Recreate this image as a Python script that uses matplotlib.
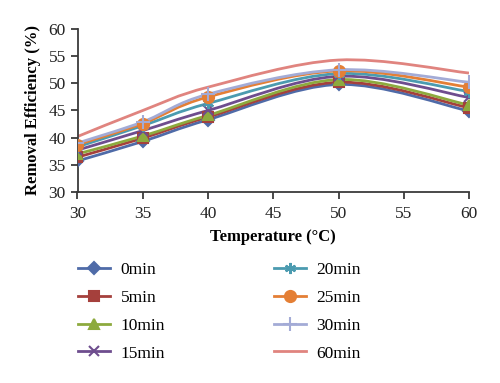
import numpy as np
import matplotlib
matplotlib.use("Agg")
import matplotlib.pyplot as plt
from matplotlib.path import Path
from matplotlib.patches import PathPatch
from matplotlib.lines import Line2D

plt.rcParams['font.family'] = ['Liberation Serif', 'DejaVu Serif']

temperature = [30, 35, 40, 50, 60]

labels = ["0min", "5min", "10min", "15min", "20min", "25min", "30min", "60min"]
eff_0 = [35.7, 39.3, 43.3, 49.8, 44.9]
eff_5 = [36.4, 39.9, 43.8, 50.2, 45.5]
eff_10 = [37.0, 40.3, 44.1, 50.7, 46.0]
eff_15 = [37.7, 41.3, 45.0, 51.3, 47.4]
eff_20 = [38.3, 42.2, 46.3, 51.8, 48.5]
eff_25 = [38.7, 42.6, 47.5, 52.3, 49.3]
eff_30 = [39.0, 42.9, 48.0, 52.5, 50.2]
eff_60 = [40.2, 45.0, 49.3, 54.3, 51.9]
series = [eff_0, eff_5, eff_10, eff_15, eff_20, eff_25, eff_30, eff_60]

colors = ["#4F6BA8", "#A5403C", "#8DAA3E", "#6E4D8E", "#4B9BB0",
          "#E47F35", "#A3ABD6", "#E0847F"]
markers = ["D", "s", "^", "x", (6, 2, 0), "o", "+", None]
msizes = [6, 7, 7, 7, 8, 8, 10, 0]


def smooth_path(xs, ys):
    # Excel-style smoothed line as cubic Bezier segments (Catmull-Rom)
    pts = np.column_stack([xs, ys]).astype(float)
    n = len(pts)
    verts = [pts[0]]
    codes = [Path.MOVETO]
    for i in range(n - 1):
        p0 = pts[i - 1] if i > 0 else pts[i]
        p1 = pts[i]
        p2 = pts[i + 1]
        p3 = pts[i + 2] if i + 2 < n else pts[i + 1]
        c1 = p1 + (p2 - p0) / 6.0
        c2 = p2 - (p3 - p1) / 6.0
        verts += [c1, c2, p2]
        codes += [Path.CURVE4] * 3
    return Path(verts, codes)


fig = plt.figure(figsize=(5.0, 3.83), dpi=100)
ax = fig.add_axes([0.155, 0.499, 0.783, 0.425])

handles = []
for vals, col, mk, ms, lab in zip(series, colors, markers, msizes, labels):
    ax.add_patch(PathPatch(smooth_path(temperature, vals), facecolor="none",
                           edgecolor=col, lw=2.0, zorder=2))
    if mk is not None:
        ax.plot(temperature, vals, linestyle="none", marker=mk, ms=ms,
                color=col, mec=col, mew=1.5, zorder=3)
    handles.append(Line2D([], [], color=col, lw=2.0, marker=mk, ms=ms,
                          mec=col, mew=1.5, label=lab))

ax.set_xlim(30, 60)
ax.set_ylim(30, 60)
ax.set_xticks(range(30, 61, 5))
ax.set_yticks(range(30, 61, 5))
ax.spines["top"].set_visible(False)
ax.spines["right"].set_visible(False)
for s in ["left", "bottom"]:
    ax.spines[s].set_color("#3a3a3a")
    ax.spines[s].set_linewidth(1.3)
ax.tick_params(direction="out", length=5, width=1.3, color="#3a3a3a",
               labelsize=12.5, colors="#222222")
ax.tick_params(axis="x", pad=5)
ax.set_xlabel("Temperature (°C)", fontsize=12, fontweight="bold", labelpad=5)
ax.set_ylabel("Removal Efficiency (%)", fontsize=12, fontweight="bold", labelpad=5)

fig.legend(handles, labels,
           loc="upper left", bbox_to_anchor=(0.125, 0.358), ncol=2,
           frameon=False, fontsize=12.5, handlelength=1.85, columnspacing=6.25,
           labelspacing=0.68, handletextpad=0.6)

fig.savefig("out.png", dpi=100)
